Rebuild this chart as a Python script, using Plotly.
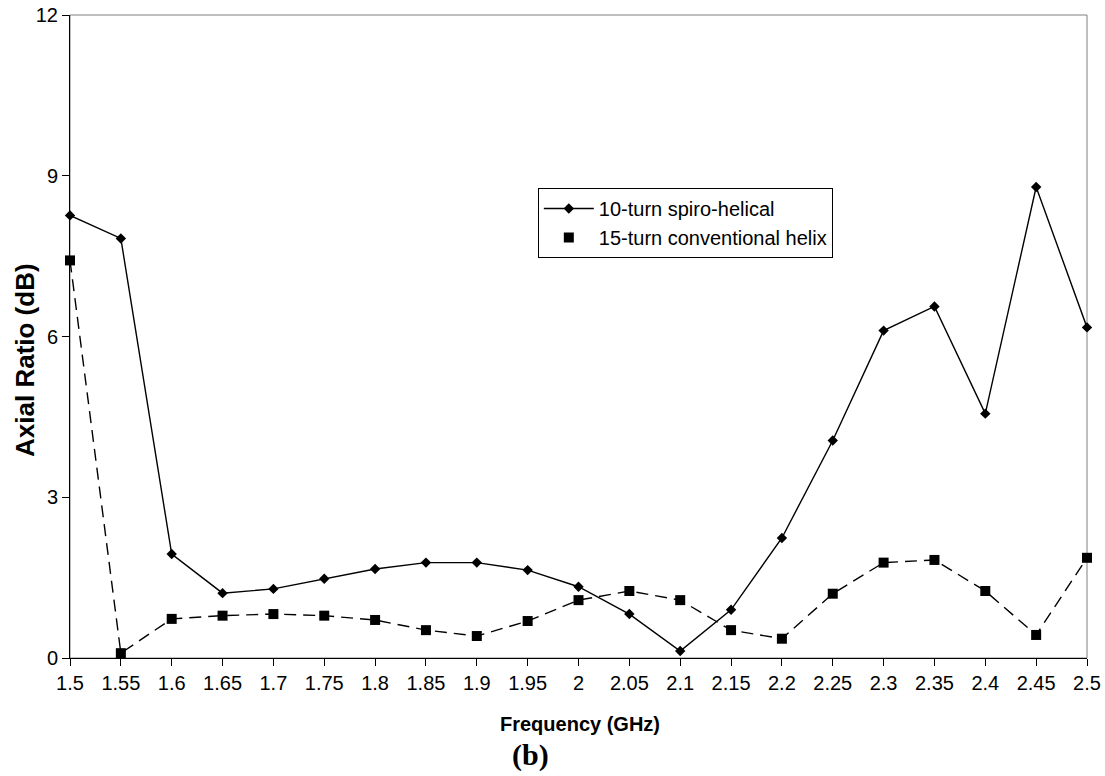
import plotly.graph_objects as go

freq = [1.5, 1.55, 1.6, 1.65, 1.7, 1.75, 1.8, 1.85, 1.9, 1.95, 2.0, 2.05, 2.1, 2.15, 2.2, 2.25, 2.3, 2.35, 2.4, 2.45, 2.5]
spiro = [8.26, 7.83, 1.94, 1.21, 1.29, 1.48, 1.66, 1.78, 1.78, 1.64, 1.33, 0.82, 0.13, 0.90, 2.24, 4.06, 6.11, 6.56, 4.56, 8.79, 6.17]
conv = [7.42, 0.09, 0.73, 0.79, 0.82, 0.79, 0.71, 0.52, 0.41, 0.69, 1.08, 1.25, 1.08, 0.52, 0.36, 1.20, 1.78, 1.83, 1.25, 0.43, 1.87]
tick_labels = ["1.5", "1.55", "1.6", "1.65", "1.7", "1.75", "1.8", "1.85", "1.9", "1.95", "2", "2.05", "2.1", "2.15", "2.2", "2.25", "2.3", "2.35", "2.4", "2.45", "2.5"]
y_ticks = [0, 3, 6, 9, 12]

fig = go.Figure()
fig.add_trace(go.Scatter(x=freq, y=spiro, mode="lines+markers", name="10-turn spiro-helical",
                         line=dict(color="black", width=1.4),
                         marker=dict(symbol="diamond", size=8, color="black"), cliponaxis=False))
fig.add_trace(go.Scatter(x=freq, y=conv, mode="lines+markers", name="15-turn conventional helix",
                         line=dict(color="black", width=1.4, dash="12px,7px"),
                         marker=dict(symbol="square", size=10, color="black"), showlegend=False, cliponaxis=False))
fig.add_trace(go.Scatter(x=[None], y=[None], mode="markers", name="15-turn conventional helix",
                         marker=dict(symbol="square", size=10, color="black")))

fig.add_shape(type="rect", xref="paper", yref="paper", x0=0, y0=0, x1=1, y1=1,
              line=dict(color="#808080", width=1), layer="below")

fig.update_layout(
    width=1105, height=776,
    margin=dict(l=70, r=18, t=15, b=118, autoexpand=False),
    plot_bgcolor="white", paper_bgcolor="white",
    font=dict(family="Liberation Sans, Arial", size=20, color="black"),
    showlegend=True,
    legend=dict(x=0.46, y=0.731, xanchor="left", yanchor="top",
                bgcolor="white", bordercolor="black", borderwidth=1,
                font=dict(size=20), tracegroupgap=0, itemwidth=50),
    xaxis=dict(range=[1.5, 2.5], tickvals=freq, ticktext=tick_labels, automargin=False,
               showgrid=False, zeroline=False, showline=True, linecolor="black", linewidth=1,
               ticks="outside", ticklen=7, tickcolor="black", tickfont=dict(size=20)),
    yaxis=dict(range=[0, 12], tickvals=y_ticks, automargin=False,
               showgrid=False, zeroline=False, showline=True, linecolor="black", linewidth=1,
               ticks="outside", ticklen=7, tickcolor="black", tickfont=dict(size=20)),
)
fig.add_annotation(text="<b>Frequency (GHz)</b>", xref="paper", yref="paper", x=0.501, y=0,
                   xanchor="center", yanchor="middle", yshift=-66, showarrow=False,
                   font=dict(size=20, color="black"))
fig.add_annotation(text="<b>Axial Ratio (dB)</b>", xref="paper", yref="paper", x=0, y=0.4635,
                   xanchor="center", yanchor="middle", xshift=-45, textangle=-90, showarrow=False,
                   font=dict(size=26, color="black"))
fig.add_annotation(text="<b>(b)</b>", xref="paper", yref="paper", x=0.453, y=0,
                   xanchor="center", yanchor="middle", yshift=-97, showarrow=False,
                   font=dict(family="Liberation Serif, Times New Roman", size=30, color="black"))

fig.write_html("out.html", config={"displayModeBar": False},
               post_script="document.body.style.margin='0px';")
